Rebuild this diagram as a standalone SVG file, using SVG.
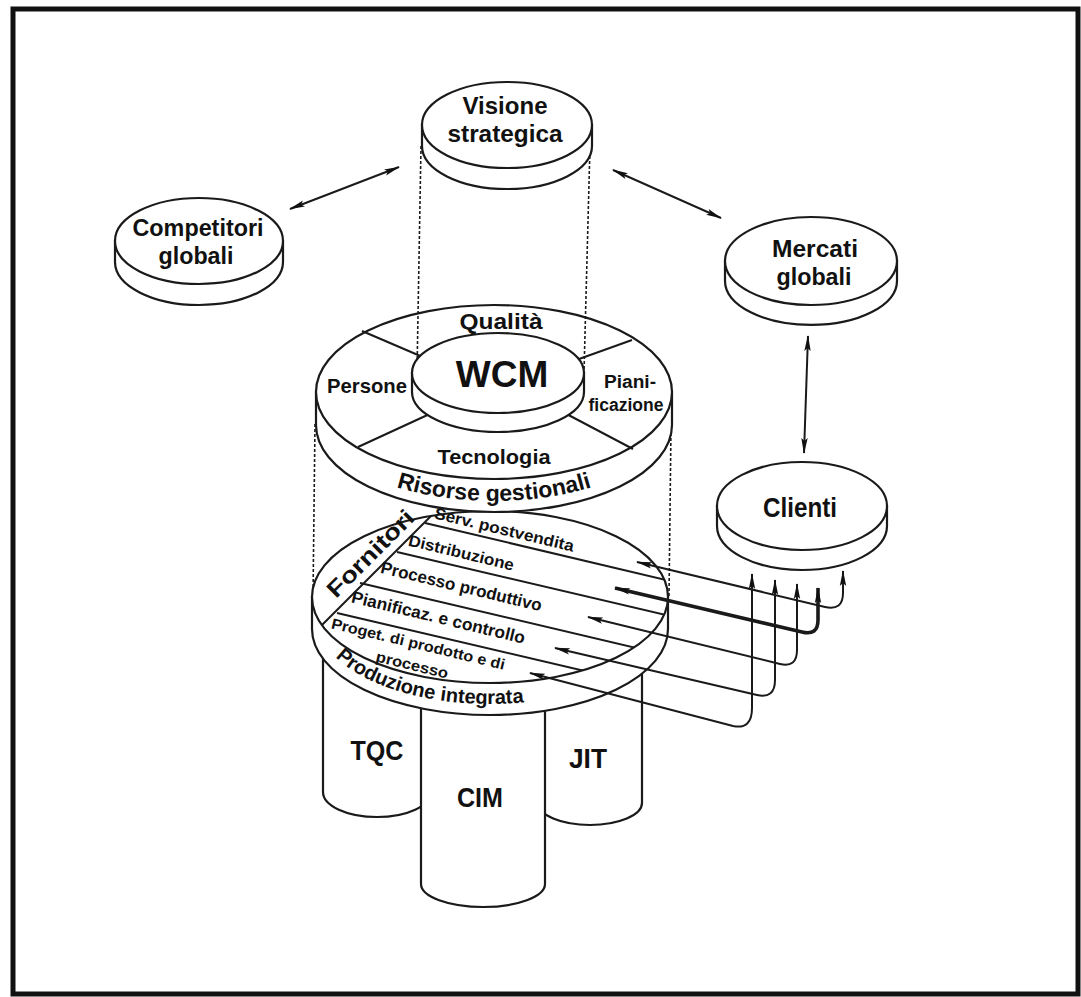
<svg xmlns="http://www.w3.org/2000/svg" xmlns:xlink="http://www.w3.org/1999/xlink" width="1081" height="997" viewBox="0 0 1081 997">
<style>
.s{fill:#fff;stroke:#1a1a1a;stroke-width:2.2}
.ln{fill:none;stroke:#1a1a1a;stroke-width:2}
.dot{fill:none;stroke:#1a1a1a;stroke-width:1.6;stroke-dasharray:3 2}
.t{font-family:"Liberation Sans",Arial,sans-serif;font-weight:bold;fill:#111;text-anchor:middle}
.ar{fill:none;stroke:#1a1a1a;stroke-width:2;marker-start:url(#ah);marker-end:url(#ah)}
</style>
<defs>
<marker id="ah" viewBox="0 0 16 8" refX="15" refY="4" markerWidth="16" markerHeight="8" markerUnits="userSpaceOnUse" orient="auto-start-reverse"><path d="M0,0.8 L16,4 L0,7.2 L3,4 Z" fill="#111"/></marker>
<clipPath id="fclip"><ellipse cx="490" cy="597" rx="178" ry="86"/></clipPath>
<path id="rg" d="M294,392 A200,109 0 0 0 694,392"/>
<path id="pi" d="M318,620 A172,84 0 0 0 662,620"/>
</defs>
<rect width="1081" height="997" fill="#fff"/>
<rect x="13" y="9" width="1065" height="985" fill="none" stroke="#111" stroke-width="5"/>

<g id="connectors-top">
<line class="ar" x1="290" y1="209" x2="399" y2="167"/>
<line class="ar" x1="613" y1="170" x2="721" y2="218"/>
<line class="ar" x1="808" y1="336" x2="804" y2="453"/>
</g>

<g id="cyl-tqc">
<path class="s" d="M323,640 L323,792 A54,25 0 0 0 431,792 L431,640 Z"/>
<text class="t" x="377" y="760" font-size="28" textLength="53" lengthAdjust="spacingAndGlyphs">TQC</text>
</g>
<g id="cyl-jit">
<path class="s" d="M538,640 L538,803 A52,22 0 0 0 642,803 L642,640 Z"/>
<text class="t" x="588" y="768" font-size="28" textLength="38" lengthAdjust="spacingAndGlyphs">JIT</text>
</g>
<g id="cyl-cim">
<path class="s" d="M421,660 L421,884 A62,23 0 0 0 545,884 L545,660 Z"/>
<text class="t" x="480" y="807" font-size="28" textLength="46" lengthAdjust="spacingAndGlyphs">CIM</text>
</g>

<g id="guides-low">
<line class="dot" x1="315" y1="424" x2="313" y2="597"/>
<line class="dot" x1="671" y1="428" x2="669" y2="597"/>
</g>

<g id="fornitori">
<path class="s" d="M312,597 L312,629 A178,86 0 0 0 668,629 L668,597 Z"/>
<ellipse class="s" cx="490" cy="597" rx="178" ry="86"/>
<g clip-path="url(#fclip)" class="ln">
<line x1="440" y1="507" x2="318" y2="629"/>
<line x1="425" y1="523" x2="700" y2="588"/>
<line x1="397" y1="552" x2="700" y2="623"/>
<line x1="360" y1="583" x2="700" y2="663"/>
<line x1="337" y1="613" x2="700" y2="698"/>
</g>
<text class="t" font-size="23" x="376" y="559" textLength="113" lengthAdjust="spacingAndGlyphs" transform="rotate(-45 376 559)">Fornitori</text>
<text class="t" font-size="16" x="503" y="535" textLength="143" lengthAdjust="spacingAndGlyphs" transform="rotate(13.5 503 535)">Serv. postvendita</text>
<text class="t" font-size="16" x="460" y="558" textLength="108" lengthAdjust="spacingAndGlyphs" transform="rotate(13.5 460 558)">Distribuzione</text>
<text class="t" font-size="17" x="460" y="592" textLength="165" lengthAdjust="spacingAndGlyphs" transform="rotate(13.5 460 592)">Processo produttivo</text>
<text class="t" font-size="17" x="437" y="623" textLength="178" lengthAdjust="spacingAndGlyphs" transform="rotate(13.5 437 623)">Pianificaz. e controllo</text>
<text class="t" font-size="15" x="417" y="649" textLength="178" lengthAdjust="spacingAndGlyphs" transform="rotate(13.5 417 649)">Proget. di prodotto e di</text>
<text class="t" font-size="15" x="411" y="670" textLength="74" lengthAdjust="spacingAndGlyphs" transform="rotate(13.5 411 670)">processo</text>
<text class="t" font-size="20" style="text-anchor:start"><textPath href="#pi" xlink:href="#pi" startOffset="42">Produzione integrata</textPath></text>
</g>

<g id="wcm-ring">
<path class="s" d="M316,392 L316,425 A178,87 0 0 0 672,425 L672,392 Z"/>
<ellipse class="s" cx="494" cy="392" rx="178" ry="87"/>
<line class="ln" x1="362" y1="331" x2="460" y2="373"/>
<line class="ln" x1="632" y1="340" x2="540" y2="373"/>
<line class="ln" x1="358" y1="447" x2="460" y2="400"/>
<line class="ln" x1="633" y1="449" x2="540" y2="400"/>
<text class="t" font-size="22" x="501" y="329" textLength="83" lengthAdjust="spacingAndGlyphs">Qualità</text>
<text class="t" font-size="21" x="367" y="393" textLength="80" lengthAdjust="spacingAndGlyphs">Persone</text>
<text class="t" font-size="18" x="630" y="388" textLength="52" lengthAdjust="spacingAndGlyphs">Piani-</text>
<text class="t" font-size="18" x="626" y="411" textLength="75" lengthAdjust="spacingAndGlyphs">ficazione</text>
<text class="t" font-size="21" x="494" y="464" textLength="113" lengthAdjust="spacingAndGlyphs">Tecnologia</text>
<text class="t" font-size="23"><textPath href="#rg" xlink:href="#rg" startOffset="50%">Risorse gestionali</textPath></text>
</g>

<g id="guides-top">
<line class="dot" x1="421" y1="146" x2="417" y2="372"/>
<line class="dot" x1="590" y1="146" x2="584" y2="372"/>
</g>

<g id="wcm">
<path class="s" d="M412,373 L412,392 A86,40 0 0 0 584,392 L584,373 Z"/>
<ellipse class="s" cx="498" cy="373" rx="86" ry="40"/>
<text class="t" font-size="37" x="502" y="387">WCM</text>
</g>

<g id="visione">
<path class="s" d="M422,125 L422,146 A85,43 0 0 0 592,146 L592,125 Z"/>
<ellipse class="s" cx="507" cy="125" rx="85" ry="43"/>
<text class="t" font-size="24" x="505" y="114" textLength="85" lengthAdjust="spacingAndGlyphs">Visione</text>
<text class="t" font-size="24" x="505" y="142" textLength="115" lengthAdjust="spacingAndGlyphs">strategica</text>
</g>

<g id="competitori">
<path class="s" d="M115,241 L115,262 A84,43 0 0 0 283,262 L283,241 Z"/>
<ellipse class="s" cx="199" cy="241" rx="84" ry="43"/>
<text class="t" font-size="24" x="198" y="236" textLength="131" lengthAdjust="spacingAndGlyphs">Competitori</text>
<text class="t" font-size="24" x="196" y="264" textLength="75" lengthAdjust="spacingAndGlyphs">globali</text>
</g>

<g id="mercati">
<path class="s" d="M725,261 L725,281 A86,44 0 0 0 897,281 L897,261 Z"/>
<ellipse class="s" cx="811" cy="261" rx="86" ry="44"/>
<text class="t" font-size="24" x="815" y="257" textLength="86" lengthAdjust="spacingAndGlyphs">Mercati</text>
<text class="t" font-size="24" x="814" y="285" textLength="75" lengthAdjust="spacingAndGlyphs">globali</text>
</g>

<g id="clienti">
<path class="s" d="M717,506 L717,526 A85,44 0 0 0 887,526 L887,506 Z"/>
<ellipse class="s" cx="802" cy="506" rx="85" ry="44"/>
<text class="t" font-size="28" x="800" y="517" textLength="74" lengthAdjust="spacingAndGlyphs">Clienti</text>
</g>

<g id="connectors">
<path class="ar" d="M843,571 L843,593 Q843,611 825,607 L637,562"/>
<path class="ar" style="stroke-width:3.6" d="M818,588 L818,620 Q818,636 802,632 L615,588"/>
<path class="ar" d="M797,584 L797,650 Q797,668 780,664 L588,617"/>
<path class="ar" d="M775,580 L775,680 Q775,699 757,695 L555,648"/>
<path class="ar" d="M752,574 L752,708 Q752,730 733,726 L530,673"/>
</g>
</svg>
